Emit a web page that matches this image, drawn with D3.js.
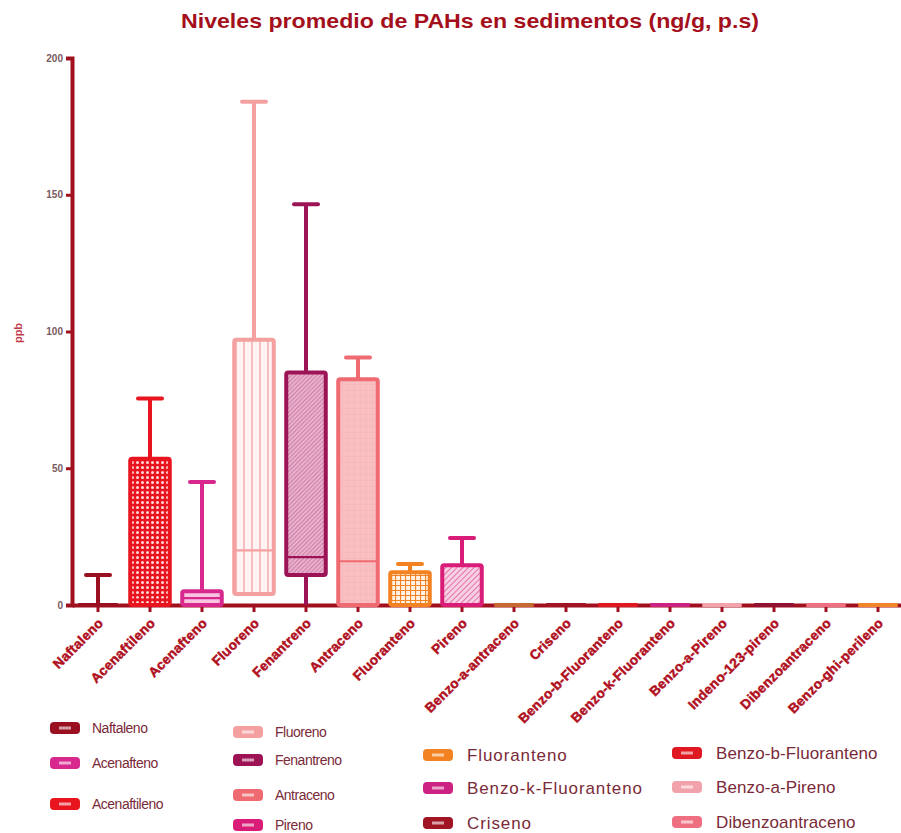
<!DOCTYPE html>
<html>
<head>
<meta charset="utf-8">
<script src="https://cdn.jsdelivr.net/npm/d3@7"></script>
<style>
  body { margin: 0; background: #fff; }
  svg { display: block; }
  text { font-family: "Liberation Sans Narrow", "Liberation Sans", Arial, sans-serif; }
</style>
</head>
<body>
<svg id="chart" width="901" height="833"></svg>
<script>
// PAH compounds on the x axis
const categories = [
  "Naftaleno", "Acenaftileno", "Acenafteno", "Fluoreno", "Fenantreno",
  "Antraceno", "Fluoranteno", "Pireno", "Benzo-a-antraceno", "Criseno",
  "Benzo-b-Fluoranteno", "Benzo-k-Fluoranteno", "Benzo-a-Pireno",
  "Indeno-123-pireno", "Dibenzoantraceno", "Benzo-ghi-perileno"
];
// Box-plot statistics (ppb)
const minVals    = [0, 0, 0, 4, 0, 0, 0, 0, 0, 0, 0, 0, 0, 0, 0, 0];
const q1Vals     = [0, 0, 0, 4, 11, 0, 0, 0, 0, 0, 0, 0, 0, 0, 0, 0];
const medianVals = [0, 2, 2.5, 20, 17.5, 16, 0, 0, 0, 0, 0, 0, 0, 0, 0, 0];
const q3Vals     = [0, 53.5, 5, 97, 85, 82.5, 12, 14.5, 0, 0, 0, 0, 0, 0, 0, 0];
const maxVals    = [11, 75.5, 45, 184, 146.5, 90.5, 15, 24.5, 0, 0, 0, 0, 0, 0, 0, 0];
const yTicks = [0, 50, 100, 150, 200];

// Colour and fill style for each compound
const colors = [
  "#9a1020", "#e8141e", "#d8288e", "#f4a0a0", "#9c1456",
  "#f06a72", "#f28222", "#d81c78", "#c46a30", "#a01424",
  "#e01822", "#cc2282", "#f2a2aa", "#921232", "#ee7080", "#f08628"
];
const fills = [
  "none", "url(#dots)", "#f8c4e0", "url(#vlines)", "url(#hatchDark)",
  "url(#softGrid)", "url(#grid)", "url(#hatchPink)", "none", "none",
  "none", "none", "none", "none", "none", "none"
];

// Legend layout: columns of compound names
const legendColumns = [
  ["Naftaleno", "Acenafteno", "Acenaftileno"],
  ["Fluoreno", "Fenantreno", "Antraceno", "Pireno"],
  ["Fluoranteno", "Benzo-k-Fluoranteno", "Criseno"],
  ["Benzo-b-Fluoranteno", "Benzo-a-Pireno", "Dibenzoantraceno"]
];

const svg = d3.select("#chart");
const axisColor = "#a0101e";

// Fill patterns
const defs = svg.append("defs");
const dots = defs.append("pattern").attr("id", "dots").attr("patternUnits", "userSpaceOnUse")
  .attr("width", 5).attr("height", 5);
dots.append("rect").attr("width", 5).attr("height", 5).attr("fill", "#e8141e");
dots.append("circle").attr("cx", 2.5).attr("cy", 2.5).attr("r", 1.5).attr("fill", "#ffd8d8");

const vl = defs.append("pattern").attr("id", "vlines").attr("patternUnits", "userSpaceOnUse")
  .attr("width", 8).attr("height", 8);
vl.append("rect").attr("width", 8).attr("height", 8).attr("fill", "#fff4f4");
vl.append("line").attr("x1", 4).attr("x2", 4).attr("y1", 0).attr("y2", 8)
  .attr("stroke", "#f4a8a8").attr("stroke-width", 1.4);

const hd = defs.append("pattern").attr("id", "hatchDark").attr("patternUnits", "userSpaceOnUse")
  .attr("width", 3).attr("height", 3).attr("patternTransform", "rotate(45)");
hd.append("rect").attr("width", 3).attr("height", 3).attr("fill", "#e8b0cc");
hd.append("line").attr("x1", 0).attr("x2", 0).attr("y1", 0).attr("y2", 3)
  .attr("stroke", "#c06090").attr("stroke-width", 1.2);

const hp = defs.append("pattern").attr("id", "hatchPink").attr("patternUnits", "userSpaceOnUse")
  .attr("width", 4).attr("height", 4).attr("patternTransform", "rotate(45)");
hp.append("rect").attr("width", 4).attr("height", 4).attr("fill", "#f8d0e4");
hp.append("line").attr("x1", 0).attr("x2", 0).attr("y1", 0).attr("y2", 4)
  .attr("stroke", "#d84a90").attr("stroke-width", 1.4);

const sg = defs.append("pattern").attr("id", "softGrid").attr("patternUnits", "userSpaceOnUse")
  .attr("width", 6).attr("height", 6);
sg.append("rect").attr("width", 6).attr("height", 6).attr("fill", "#f8c0c2");
sg.append("path").attr("d", "M0,0H6M0,0V6").attr("stroke", "#f6b0b4").attr("stroke-width", 0.8);

const gr = defs.append("pattern").attr("id", "grid").attr("patternUnits", "userSpaceOnUse")
  .attr("width", 5).attr("height", 5);
gr.append("rect").attr("width", 5).attr("height", 5).attr("fill", "#fff2e4");
gr.append("path").attr("d", "M0,0.5H5M0.5,0V5").attr("stroke", "#f28222").attr("stroke-width", 1.2);

// Scales
const x = d3.scaleBand().domain(categories).range([72, 904]).padding(0);
const y = d3.scaleLinear().domain([0, 200]).range([605, 58]);
const boxW = x.bandwidth() * 0.76;
const capW = 24;

// Title
svg.append("text").attr("x", 470).attr("y", 28).attr("text-anchor", "middle")
  .attr("font-size", 21).attr("font-weight", "bold").attr("fill", "#a40f1c")
  .attr("textLength", 578).attr("lengthAdjust", "spacingAndGlyphs")
  .text("Niveles promedio de PAHs en sedimentos (ng/g, p.s)");

// Y axis
const yAxis = svg.append("g").attr("transform", "translate(72,0)")
  .call(d3.axisLeft(y).tickValues(yTicks).tickSize(6).tickPadding(3));
yAxis.select(".domain").attr("stroke", axisColor).attr("stroke-width", 4);
yAxis.selectAll(".tick line").attr("stroke", axisColor).attr("stroke-width", 3);
yAxis.selectAll(".tick text").attr("fill", "#7a5a5e").attr("font-size", 10).attr("font-weight", "bold");

svg.append("text").attr("transform", "translate(22,333) rotate(-90)")
  .attr("text-anchor", "middle").attr("font-size", 11).attr("font-weight", "bold")
  .attr("fill", "#c03848").text("ppb");

// X axis
const xAxis = svg.append("g").attr("transform", "translate(0,605)")
  .call(d3.axisBottom(x).tickSize(7).tickSizeOuter(0).tickFormat(""));
xAxis.select(".domain").attr("stroke", axisColor).attr("stroke-width", 4);
xAxis.selectAll(".tick line").attr("stroke", axisColor).attr("stroke-width", 3);

svg.append("g").selectAll("text").data(categories).join("text")
  .attr("transform", d => `translate(${x(d) + x.bandwidth() / 2 + 6},${624}) rotate(-45)`)
  .attr("text-anchor", "end").attr("font-size", 13.5).attr("font-weight", "bold")
  .attr("fill", "#b0101e").attr("stroke", "#b0101e").attr("stroke-width", 0.5)
  .attr("letter-spacing", 0.3)
  .text(d => d);

// Boxes and whiskers (zero-range boxes still show as a coloured bar on the axis)
const boxes = svg.append("g").selectAll("g").data(categories).join("g");
boxes.each(function (d, i) {
  const g = d3.select(this);
  const cx = x(d) + x.bandwidth() / 2;
  const c = colors[i];
  // upper whisker
  if (maxVals[i] > q3Vals[i]) {
    g.append("line").attr("x1", cx).attr("x2", cx).attr("y1", y(q3Vals[i])).attr("y2", y(maxVals[i]))
      .attr("stroke", c).attr("stroke-width", 4);
    g.append("line").attr("x1", cx - capW / 2).attr("x2", cx + capW / 2)
      .attr("y1", y(maxVals[i])).attr("y2", y(maxVals[i]))
      .attr("stroke", c).attr("stroke-width", 4).attr("stroke-linecap", "round");
  }
  // lower whisker
  if (q1Vals[i] > minVals[i]) {
    g.append("line").attr("x1", cx).attr("x2", cx).attr("y1", y(minVals[i])).attr("y2", y(q1Vals[i]))
      .attr("stroke", c).attr("stroke-width", 4);
  }
  // box
  const top = y(q3Vals[i]), bot = y(q1Vals[i]);
  if (bot - top > 0.5) {
    g.append("rect").attr("x", cx - boxW / 2).attr("y", top)
      .attr("width", boxW).attr("height", bot - top)
      .attr("rx", 2).attr("fill", fills[i]).attr("stroke", c).attr("stroke-width", 4);
  } else {
    g.append("line").attr("x1", cx - boxW / 2).attr("x2", cx + boxW / 2)
      .attr("y1", top).attr("y2", top)
      .attr("stroke", c).attr("stroke-width", 4);
  }
  // median
  if (q3Vals[i] > q1Vals[i] && medianVals[i] > q1Vals[i]) {
    g.append("line").attr("x1", cx - boxW / 2).attr("x2", cx + boxW / 2)
      .attr("y1", y(medianVals[i])).attr("y2", y(medianVals[i]))
      .attr("stroke", c).attr("stroke-width", 2.2);
  }
});

// Legend
const colX = [50, 233, 423, 672];
const rowY = [
  [728, 763, 804],
  [732, 760, 795, 825],
  [755, 788, 823],
  [753, 787, 822]
];
const fontSizes = [14, 14, 17, 17];
const spacings = [-0.5, -0.5, 0.9, 0.1];
legendColumns.forEach((names, ci) => {
  names.forEach((name, ri) => {
    const idx = categories.indexOf(name);
    const c = colors[idx];
    const gy = rowY[ci][ri];
    const g = svg.append("g").attr("transform", `translate(${colX[ci]},${gy})`);
    g.append("rect").attr("x", 0).attr("y", -6).attr("width", 30).attr("height", 12)
      .attr("rx", 4).attr("fill", c);
    g.append("rect").attr("x", 9).attr("y", -1.5).attr("width", 12).attr("height", 3)
      .attr("fill", "#ffffff").attr("opacity", 0.6);
    g.append("text").attr("x", ci < 2 ? 42 : 44).attr("y", 0).attr("dy", "0.35em")
      .attr("font-size", fontSizes[ci]).attr("fill", "#7a2a38")
      .attr("letter-spacing", spacings[ci])
      .text(name);
  });
});
</script>
</body>
</html>
